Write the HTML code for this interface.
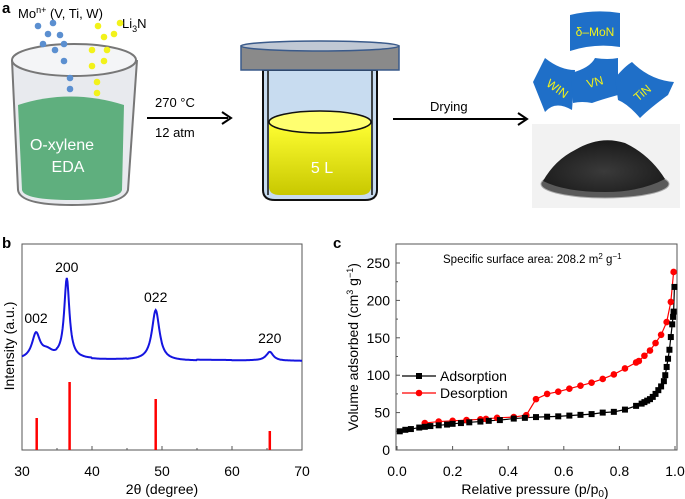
<!DOCTYPE html>
<html><head><meta charset="utf-8"><style>
body{margin:0;background:#fff;}
svg{display:block;font-family:"Liberation Sans",sans-serif;}
</style></head><body>
<svg width="685" height="499" viewBox="0 0 685 499">
<defs>
<linearGradient id="yel" x1="0" y1="0" x2="0" y2="1"><stop offset="0" stop-color="#ffff33"/><stop offset="1" stop-color="#c8c800"/></linearGradient>
<radialGradient id="pile" cx="0.5" cy="0.6" r="0.6"><stop offset="0" stop-color="#3a3a3a"/><stop offset="1" stop-color="#1a1a1a"/></radialGradient>
</defs>
<g>
<text x="2" y="13" font-size="15" font-weight="bold">a</text>
<text x="18" y="18" font-size="13">Mo<tspan font-size="9" dy="-5">n+</tspan><tspan dy="5"> (V, Ti, W)</tspan></text>
<text x="122" y="28" font-size="13">Li<tspan font-size="9" dy="4">3</tspan><tspan dy="-4">N</tspan></text>
<g>
<path d="M12,60 L18,190 Q20,205 72,205 Q124,205 128,190 L137,60" fill="#e8eaee" stroke="#777" stroke-width="2"/>
<path d="M18,105 Q70,88 124,105 L122,190 Q120,200 72,200 Q24,200 22,190 Z" fill="#5faf7e"/>
<ellipse cx="74" cy="60" rx="62" ry="16" fill="#f4f5f7" stroke="#777" stroke-width="2"/>
<text x="62" y="150" font-size="16" fill="#fff" text-anchor="middle">O-xylene</text>
<text x="68" y="172" font-size="16" fill="#fff" text-anchor="middle">EDA</text>
</g>
<g fill="#5b8fd0">
<circle cx="38" cy="26" r="3.3"/><circle cx="53" cy="23" r="3.3"/><circle cx="48" cy="34" r="3.3"/><circle cx="60" cy="35" r="3.3"/><circle cx="43" cy="44" r="3.3"/><circle cx="55" cy="50" r="3.3"/><circle cx="64" cy="44" r="3.3"/><circle cx="64" cy="61" r="3.3"/><circle cx="70" cy="78" r="3.3"/><circle cx="70" cy="89" r="3.3"/></g>
<g fill="#f2f21a">
<circle cx="98" cy="26" r="3.3"/><circle cx="120" cy="23" r="3.3"/><circle cx="104" cy="37" r="3.3"/><circle cx="114" cy="34" r="3.3"/><circle cx="92" cy="50" r="3.3"/><circle cx="107" cy="50" r="3.3"/><circle cx="104" cy="61" r="3.3"/><circle cx="92" cy="66" r="3.3"/><circle cx="97" cy="82" r="3.3"/><circle cx="97" cy="93" r="3.3"/></g>
<g>
<line x1="147" y1="118" x2="228" y2="118" stroke="#000" stroke-width="2"/>
<path d="M222,112 L231,118 L222,124" fill="none" stroke="#000" stroke-width="2"/>
<text x="155" y="107" font-size="13">270 °C</text>
<text x="155" y="137" font-size="13">12 atm</text></g>
<g>
<path d="M263,70 L263,190 Q263,200 275,200 L365,200 Q377,200 377,190 L377,70 Z" fill="#c8dcf0" stroke="#111" stroke-width="2"/>
<line x1="268" y1="70" x2="268" y2="195" stroke="#111" stroke-width="1.5"/>
<line x1="372" y1="70" x2="372" y2="195" stroke="#111" stroke-width="1.5"/>
<path d="M269,122 L269,188 Q270,195 280,195 L360,195 Q370,195 371,188 L371,122 Z" fill="url(#yel)"/>
<ellipse cx="320" cy="122" rx="51" ry="11" fill="#ffff70" stroke="#111" stroke-width="1.5"/>
<rect x="241" y="46" width="158" height="24" fill="#8a8a8a" stroke="#3a5a8a" stroke-width="1.5"/>
<ellipse cx="320" cy="46" rx="79" ry="5" fill="#c0c8d4" stroke="#3a5a8a" stroke-width="1.5"/>
<text x="322" y="173" font-size="16" fill="#fff" text-anchor="middle">5 L</text></g>
<g>
<line x1="393" y1="119" x2="525" y2="119" stroke="#000" stroke-width="2"/>
<path d="M518,113 L527,119 L518,125" fill="none" stroke="#000" stroke-width="2"/>
<text x="430" y="111" font-size="13">Drying</text></g>
<g font-size="12" fill="#f2f21a">
<path d="M570,15 Q595,9 620,13 L620,47 Q595,43 570,51 Z" fill="#1f6fc8"/>
<text x="595" y="36" text-anchor="middle" fill="#f2f21a">δ–MoN</text>
<path d="M533,82 L545,58 Q560,70 575,70 L572,110 Q555,100 545,112 Z" fill="#1f6fc8"/>
<text x="555" y="92" transform="rotate(35 555 92)" text-anchor="middle">WIN</text>
<path d="M571,73 Q590,68 595,58 Q608,60 618,58 L618,95 Q600,100 592,103 Q582,101 573,103 Z" fill="#1f6fc8"/>
<text x="596" y="86" text-anchor="middle" transform="rotate(-15 596 86)">VN</text>
<path d="M615,78 Q625,66 632,62 Q650,80 674,82 L668,95 Q650,108 640,118 Q628,104 618,100 Z" fill="#1f6fc8"/>
<text x="645" y="96" text-anchor="middle" transform="rotate(-40 645 96)">TiN</text></g>
<g>
<rect x="532" y="124" width="148" height="84" fill="#f2f2f2"/>
<ellipse cx="605" cy="184" rx="64" ry="14" fill="#5a5a5a" stroke="#aaa"/>
<path d="M543,181 Q555,160 575,150 Q600,135 625,143 Q650,155 665,179 Q640,192 605,192 Q565,192 543,181 Z" fill="url(#pile)"/></g>
</g>
<g>
<text x="2" y="248" font-size="15" font-weight="bold">b</text>
<rect x="22" y="244" width="280" height="206" fill="none" stroke="#555" stroke-width="1"/>
<g id="bx" font-size="14"></g>
<text x="162" y="494" font-size="14" text-anchor="middle">2θ (degree)</text>
<text transform="translate(14,346) rotate(-90)" font-size="14" text-anchor="middle">Intensity (a.u.)</text>
<path id="xrd" fill="none" stroke="#1515e0" stroke-width="2"/>
<g id="sticks"></g><g id="hkl" font-size="14"></g>
</g>
<g>
<text x="333" y="248" font-size="15" font-weight="bold">c</text>
<rect x="396" y="244" width="281" height="206" fill="none" stroke="#555" stroke-width="1"/>
<g id="cx" font-size="14"></g>
<text x="535" y="494" font-size="14" text-anchor="middle">Relative pressure (p/p<tspan font-size="10" dy="3">0</tspan>)</text>
<text transform="translate(358,347) rotate(-90)" font-size="14" text-anchor="middle">Volume adsorbed (cm<tspan font-size="9" dy="-5">3</tspan><tspan dy="5"> g</tspan><tspan font-size="9" dy="-5">−1</tspan><tspan dy="5">)</tspan></text>
<text x="443" y="263" font-size="11.5">Specific  surface area: 208.2 m<tspan font-size="8" dy="-4">2</tspan><tspan dy="4"> g</tspan><tspan font-size="8" dy="-4">−1</tspan></text>
<g id="iso"></g>
<g font-size="14">
<line x1="402" y1="376" x2="436" y2="376" stroke="#000" stroke-width="1.2"/><rect x="416" y="373" width="6" height="6" fill="#000"/>
<text x="440" y="381">Adsorption</text>
<line x1="402" y1="393" x2="436" y2="393" stroke="#f00" stroke-width="1.2"/><circle cx="419" cy="393" r="3.3" fill="#f00"/>
<text x="440" y="398">Desorption</text></g>
</g>
</svg>
<script>
const NS="http://www.w3.org/2000/svg";
const bTicks=[30,40,50,60,70];
const peakPos=[32.0,33.6,36.4,49.1,65.4];
const peakHeight=[25,7,80,50,9];
const peakWidth=[0.7,1.0,0.45,0.65,0.6];
const peakLabels=["002","200","022","220"];
const labelPeak=[0,2,3,4];
const refPos=[32.1,36.8,49.1,65.4];
const refInt=[32,68,51,19];
const baseVals=[0,2,0,-1,-3,-1,-2,-3];
const cXTicks=[0.0,0.2,0.4,0.6,0.8,1.0];
const cYTicks=[0,50,100,150,200,250];
const adsP=[0.01,0.03,0.05,0.08,0.1,0.12,0.15,0.18,0.2,0.23,0.26,0.3,0.33,0.37,0.42,0.46,0.5,0.54,0.58,0.62,0.66,0.7,0.74,0.78,0.82,0.86,0.88,0.89,0.9,0.91,0.92,0.93,0.94,0.95,0.96,0.965,0.97,0.975,0.98,0.985,0.99,0.993,0.995,0.998];
const adsV=[25,27,28,30,31,32,33,34,35,36,37,38,39,40,42,43,44,44.5,45,46,47,48,50,51,54,59,62,64,66,68,71,75,80,85,92,100,111,122,134,151,168,178,185,218];
const desP=[0.1,0.15,0.2,0.25,0.3,0.32,0.36,0.42,0.465,0.5,0.54,0.58,0.62,0.66,0.7,0.74,0.78,0.82,0.86,0.87,0.89,0.91,0.93,0.95,0.97,0.985,0.995];
const desV=[36,38,39,40,41,41.5,43,44,46.5,68,75,78,82,86,90,95,101,109,117,119,126,133,143,154,171,198,238];

function el(tag,attrs,parent){const e=document.createElementNS(NS,tag);for(const k in attrs)e.setAttribute(k,attrs[k]);parent.appendChild(e);return e;}
const bx=v=>22+(v-30)*7;
const cx=v=>397+v*278;
const cy=v=>450-v*0.748;

const gbx=document.getElementById('bx');
bTicks.forEach((t,i)=>{
  el('line',{x1:bx(t),y1:450,x2:bx(t),y2:446,stroke:'#555'},gbx);
  if(i<bTicks.length-1) el('line',{x1:bx(t+5),y1:450,x2:bx(t+5),y2:448,stroke:'#555'},gbx);
  const tx=el('text',{x:bx(t),y:476,'text-anchor':'middle'},gbx);tx.textContent=t;
  
  
});
let d="";
for(let x=30;x<=70.001;x+=0.1){
  let y=0;
  for(let i=0;i<peakPos.length;i++){const w=peakWidth[i];y+=peakHeight[i]/(1+((x-peakPos[i])/w)**2);}
  const bi=Math.min(baseVals.length-1,Math.floor((x-30)/5));
  const base=baseVals[bi]*0.3;
  const py=360-y-base;
  d+=(d?"L":"M")+bx(x).toFixed(1)+","+py.toFixed(1);
}
document.getElementById('xrd').setAttribute('d',d);
const gs=document.getElementById('sticks');
refPos.forEach((p,i)=>{
  const l=el('line',{x1:bx(p),y1:450,x2:bx(p),y2:450-refInt[i],stroke:'#f00','stroke-width':2.5},gs);
  
  
});
const gh=document.getElementById('hkl');
peakLabels.forEach((s,i)=>{
  const k=labelPeak[i];
  const t=el('text',{x:bx(peakPos[k]),y:360-peakHeight[k]-(k===0?4:0)-8,'text-anchor':'middle'},gh);t.textContent=s;
  
  
});
const gcx=document.getElementById('cx');
cXTicks.forEach(t=>{
  el('line',{x1:cx(t),y1:450,x2:cx(t),y2:446,stroke:'#555'},gcx);
  const tx=el('text',{x:cx(t),y:476,'text-anchor':'middle'},gcx);tx.textContent=t.toFixed(1);
  
  
});
cYTicks.forEach(t=>{
  el('line',{x1:396,y1:cy(t),x2:400,y2:cy(t),stroke:'#555'},gcx);
  if(t<250) el('line',{x1:396,y1:cy(t+25),x2:398,y2:cy(t+25),stroke:'#555'},gcx);
  const tx=el('text',{x:390,y:cy(t)+5,'text-anchor':'end'},gcx);tx.textContent=t;
  
  
});
const gi=document.getElementById('iso');
const pd=desP.map((p,i)=>(i?"L":"M")+cx(p)+","+cy(desV[i])).join("");
const dl=el('path',{d:pd,fill:'none',stroke:'#f00','stroke-width':1.2},gi);


const pa=adsP.map((p,i)=>(i?"L":"M")+cx(p)+","+cy(adsV[i])).join("");
const al=el('path',{d:pa,fill:'none',stroke:'#000','stroke-width':1.2},gi);


desP.forEach((p,i)=>{
  const c=el('circle',{cx:cx(p),cy:cy(desV[i]),r:3.3,fill:'#f00'},gi);
  
  
});
adsP.forEach((p,i)=>{
  const r=el('rect',{x:cx(p)-3,y:cy(adsV[i])-3,width:6,height:6,fill:'#000'},gi);
  
  
});
</script>
</body></html>
